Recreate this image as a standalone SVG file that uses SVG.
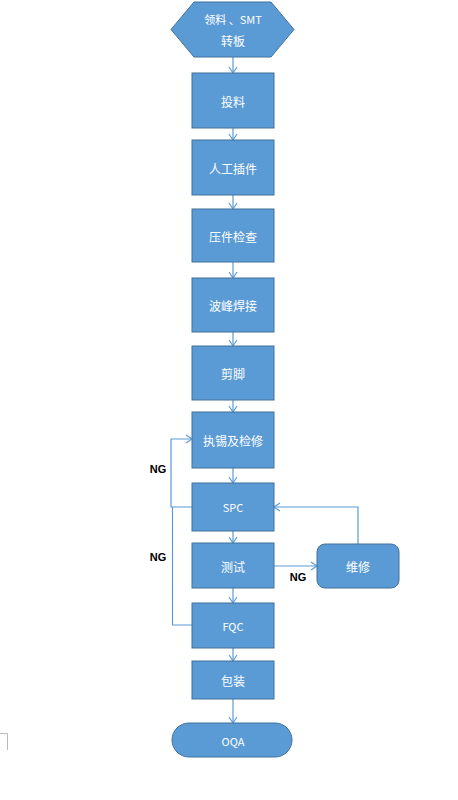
<svg xmlns="http://www.w3.org/2000/svg" width="458" height="800" viewBox="0 0 458 800">
<defs>
<marker id="arr" markerWidth="10" markerHeight="10" refX="8" refY="5" orient="auto" markerUnits="userSpaceOnUse">
<polyline points="2,1 8,5 2,9" fill="none" stroke="#5B9BD5" stroke-width="1.2"/>
</marker>
</defs>
<style>
.n{fill:#5B9BD5;stroke:#41719C;stroke-width:1}
.t{fill:#fff;font-family:"Noto Sans CJK SC","Liberation Sans",sans-serif;font-size:12px;text-anchor:middle;dominant-baseline:central}
.c{fill:none;stroke:#5B9BD5;stroke-width:1.2}
.ng{fill:#000;font-family:"Liberation Sans",sans-serif;font-size:11px;font-weight:bold;text-anchor:middle;dominant-baseline:central}
</style>
<rect width="458" height="800" fill="#fff"/>
<g id="connectors">
<line class="c" x1="233" y1="57" x2="233" y2="73" marker-end="url(#arr)"/>
<line class="c" x1="233" y1="128" x2="233" y2="140" marker-end="url(#arr)"/>
<line class="c" x1="233" y1="195" x2="233" y2="209" marker-end="url(#arr)"/>
<line class="c" x1="233" y1="262" x2="233" y2="278" marker-end="url(#arr)"/>
<line class="c" x1="233" y1="332" x2="233" y2="346" marker-end="url(#arr)"/>
<line class="c" x1="233" y1="400" x2="233" y2="412" marker-end="url(#arr)"/>
<line class="c" x1="233" y1="468" x2="233" y2="483" marker-end="url(#arr)"/>
<line class="c" x1="233" y1="531" x2="233" y2="543" marker-end="url(#arr)"/>
<line class="c" x1="233" y1="588" x2="233" y2="603" marker-end="url(#arr)"/>
<line class="c" x1="233" y1="648" x2="233" y2="661" marker-end="url(#arr)"/>
<line class="c" x1="233" y1="699" x2="233" y2="723" marker-end="url(#arr)"/>
<polyline class="c" points="192,507 171,507 171,439 192,439" marker-end="url(#arr)"/>
<polyline class="c" points="192,625 172.5,625 172.5,507"/>
<line class="c" x1="274" y1="566" x2="317" y2="566" marker-end="url(#arr)"/>
<polyline class="c" points="358,544 358,507 274,507" marker-end="url(#arr)"/>
<path d="M0,733.5 H7.5 V750" fill="none" stroke="#bbb" stroke-width="1"/>
</g>
<text class="ng" x="158" y="469">NG</text>
<text class="ng" x="158" y="557">NG</text>
<text class="ng" x="298" y="577">NG</text>
<g id="start">
<polygon class="n" points="171,29.5 194,2 271,2 294,29.5 271,57 194,57"/>
<text class="t" x="233" y="19" style="font-size:11px">领料 、SMT</text>
<text class="t" x="233" y="40">转板</text>
</g>
<g id="n1"><rect class="n" x="192" y="73" width="82" height="55"/><text class="t" x="233" y="101">投料</text></g>
<g id="n2"><rect class="n" x="192" y="140" width="82" height="55"/><text class="t" x="233" y="168">人工插件</text></g>
<g id="n3"><rect class="n" x="192" y="209" width="82" height="53"/><text class="t" x="233" y="236">压件检查</text></g>
<g id="n4"><rect class="n" x="192" y="278" width="82" height="54"/><text class="t" x="233" y="305">波峰焊接</text></g>
<g id="n5"><rect class="n" x="192" y="346" width="82" height="54"/><text class="t" x="233" y="373">剪脚</text></g>
<g id="n6"><rect class="n" x="192" y="412" width="82" height="56"/><text class="t" x="233" y="440">执锡及检修</text></g>
<g id="n7"><rect class="n" x="192" y="483" width="82" height="48"/><text class="t" x="233" y="507" style="font-size:11px">SPC</text></g>
<g id="n8"><rect class="n" x="192" y="543" width="82" height="45"/><text class="t" x="233" y="566">测试</text></g>
<g id="n9"><rect class="n" x="192" y="603" width="82" height="45"/><text class="t" x="233" y="626" style="font-size:11px">FQC</text></g>
<g id="n10"><rect class="n" x="192" y="661" width="82" height="38"/><text class="t" x="233" y="680">包装</text></g>
<g id="end"><rect class="n" x="172" y="723" width="120" height="34" rx="17"/><text class="t" x="233" y="741" style="font-size:11px">OQA</text></g>
<g id="repair"><rect class="n" x="317" y="544" width="82" height="44" rx="8"/><text class="t" x="358" y="566">维修</text></g>
</svg>
